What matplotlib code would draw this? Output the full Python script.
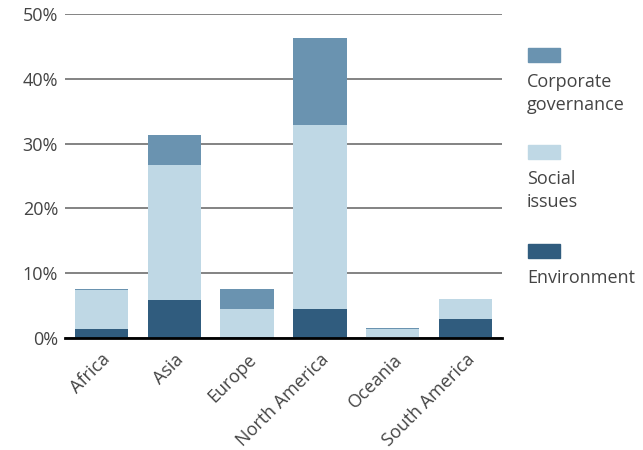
import numpy as np
import matplotlib.pyplot as plt
from matplotlib.patches import Rectangle

regions = ['Africa', 'Asia', 'Europe', 'North America', 'Oceania', 'South America']
environment = [1.4, 5.9, 0.1, 4.5, 0.05, 2.9]
social = [6.05, 20.8, 4.4, 28.4, 1.4, 3.1]
governance = [0.05, 4.6, 3.1, 13.4, 0.05, 0.05]

c_env = '#305c7e'
c_soc = '#bfd8e5'
c_gov = '#6a93b0'

plt.rcParams['font.family'] = ['Open Sans', 'DejaVu Sans']

fig = plt.figure(figsize=(6.43, 4.5), dpi=100)
ax = fig.add_axes([65/643, 1-338/450, (502-65)/643, (338-14)/450])

x = np.arange(len(regions))
env = np.array(environment)
soc = np.array(social)
gov = np.array(governance)
w = 0.73
ax.bar(x, env, w, color=c_env, zorder=3)
ax.bar(x, soc, w, bottom=env, color=c_soc, zorder=3)
ax.bar(x, gov, w, bottom=env + soc, color=c_gov, zorder=3)

ax.set_ylim(0, 50)
ax.set_xlim(-0.5, len(regions) - 0.5)
ax.set_yticks(np.arange(0, 51, 10))
ax.set_yticklabels([f'{v}%' for v in range(0, 51, 10)], fontsize=13, color='#444444')
ax.yaxis.grid(True, color='#6e6e6e', linewidth=1.2, zorder=0)
ax.set_xticks(x)
ax.set_xticklabels(regions, rotation=45, ha='right', rotation_mode='anchor',
                   fontsize=13, color='#444444')
ax.tick_params(length=0, pad=5)
ax.tick_params(axis='x', pad=9)
for s in ['top', 'right', 'left']:
    ax.spines[s].set_visible(False)
ax.spines['bottom'].set_color('black')
ax.spines['bottom'].set_linewidth(2)
ax.spines['bottom'].set_zorder(4)

# legend, drawn by hand: swatch above label
legend_items = [('Corporate\ngovernance', c_gov, 48), ('Social\nissues', c_soc, 145),
                ('Environment', c_env, 244)]
for label, col, ytop in legend_items:
    fig.add_artist(Rectangle((528/643, 1 - (ytop + 14)/450), 32/643, 14/450,
                             transform=fig.transFigure, color=col))
    fig.text(527/643, 1 - (ytop + 25)/450, label, fontsize=13, color='#444444',
             va='top', ha='left', linespacing=1.35)

fig.savefig('out.png', dpi=100)
